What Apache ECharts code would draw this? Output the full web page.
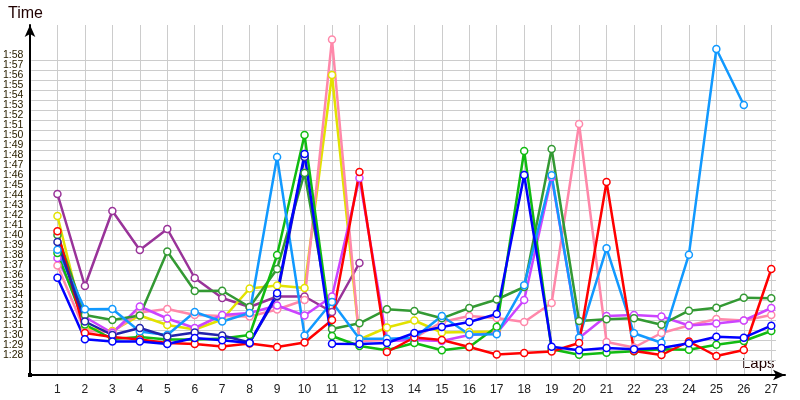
<!DOCTYPE html>
<html><head><meta charset="utf-8">
<script src="https://cdn.jsdelivr.net/npm/echarts@6/dist/echarts.min.js"></script>
<style>html,body{margin:0;padding:0;background:#fff}#c{width:800px;height:400px}</style>
</head><body><div id="c"></div>
<script>
// Lap numbers
const laps = [1,2,3,4,5,6,7,8,9,10,11,12,13,14,15,16,17,18,19,20,21,22,23,24,25,26,27];
// Lap times in seconds (e.g. 90.5 = 1:30.5)
const purpleTimes = [104.6,95.4,102.9,99.0,101.1,96.2,94.2,93.3,94.35,94.35,92.8,97.7];
const yellowTimes = [102.4,91.2,90.9,92.45,91.5,91.05,92.05,95.15,95.45,95.2,116.5,90.05,91.25,91.95,90.75,90.8,90.85];
const pinkTimes   = [97.45,90.9,90.8,92.75,93.1,92.5,92.4,92.35,93.05,94.0,120.05,89.9,90.0,90.2,91.8,92.4,92.2,91.8,93.7,111.6,89.8,89.25,90.7,91.45,92.1,91.95,92.5];
const violetTimes = [98.2,92.3,90.7,93.35,92.15,91.2,92.5,92.7,93.45,92.45,94.35,106.2,89.9,90.0,89.9,90.5,90.67,94.0,106.3,90.2,92.4,92.5,92.35,91.45,91.65,91.95,93.2];
const darkGreenTimes = [100.5,92.5,92.0,92.45,98.85,94.9,94.93,93.3,97.1,106.7,91.1,91.67,93.07,92.9,92.17,93.2,94.05,95.3,109.1,91.9,92.07,92.17,91.53,92.93,93.23,94.23,94.17];
const greenTimes  = [98.7,91.55,90.1,90.3,90.05,90.05,90.15,90.5,98.5,110.5,90.4,89.4,88.97,89.7,88.97,89.3,91.33,108.9,89.07,88.53,88.73,88.87,89.07,89.03,89.53,89.9,90.9];
const lightBlueTimes = [99.03,93.07,93.1,90.85,90.5,92.8,91.85,92.7,108.3,90.45,93.8,90.13,90.13,90.23,92.4,90.55,90.57,95.47,106.47,90.23,99.17,90.67,89.73,98.53,119.1,113.5];
const redTimes    = [100.87,90.7,90.3,90.05,89.7,89.6,89.35,89.65,89.3,89.75,92.0,106.8,88.8,90.25,90.0,89.3,88.55,88.7,88.85,89.7,105.8,88.9,88.5,89.85,88.4,89.0,97.1];
const navyTimes   = [99.8,91.85,90.5,91.2,90.35,90.75,90.45,89.75,94.4,108.3];
const blueTimes   = [96.23,90.07,89.85,89.85,89.6,90.2,89.97,89.7,94.67,108.6,89.63,89.6,89.7,90.7,91.3,91.8,92.6,106.5,89.33,88.97,89.2,89.07,89.2,89.67,90.33,90.23,91.43];

const yMin = 88, yMax = 118; // tick label range 1:28 .. 1:58

function fmt(v){
  if (v < yMin || v > yMax) return '';
  const m = Math.floor(v/60), s = Math.round(v - m*60); return m + ':' + String(s).padStart(2,'0');
}

function mk(name, color, vals){
  return {
    name, type:'line', xAxisIndex:0, yAxisIndex:0,
    data: vals.map((v,i)=>[laps[i], v]),
    symbol:'circle', symbolSize:7, showAllSymbol:true,
    lineStyle:{color, width:2.5},
    itemStyle:{color:'#fff', borderColor:color, borderWidth:1.5},
    emphasis:{disabled:true}, silent:true
  };
}

const chart = echarts.init(document.getElementById('c'), null, {renderer:'canvas'});
chart.setOption({
  animation:false,
  backgroundColor:'#fff',
  grid:[
    {left:30, top:25, width:755, height:350},
    {left:30, top:50, width:746, height:320}
  ],
  xAxis:[
    {gridIndex:0, type:'value', min:0, max:27.5, interval:1,
     axisLine:{onZero:false, lineStyle:{color:'#000', width:2}, symbol:['none','arrow'], symbolSize:[8,12]},
     axisTick:{show:false},
     axisLabel:{formatter:v => (Number.isInteger(v) && v>=1 && v<=27) ? String(v) : '', fontSize:12, color:'#222', margin:9, fontFamily:'Liberation Sans, Arial, sans-serif'},
     splitLine:{show:true, showMinLine:false, showMaxLine:false, lineStyle:{color:'#cccccc', width:1}}
    },
    {gridIndex:1, type:'value', min:0, max:1, show:false}
  ],
  yAxis:[
    {gridIndex:0, type:'value', min:86.5, max:121.5,
     axisLine:{show:true, onZero:false, lineStyle:{color:'#000', width:2}, symbol:['none','arrow'], symbolSize:[8,12]},
     axisTick:{show:false}, axisLabel:{show:false}, splitLine:{show:false}
    },
    {gridIndex:1, type:'value', min:yMin-1, max:yMax+1, interval:1,
     axisLine:{show:false}, axisTick:{show:false},
     axisLabel:{formatter:fmt, interval:0, fontSize:10.5, lineHeight:9, color:'#2a2000', margin:8, verticalAlign:'bottom',
                hideOverlap:false, fontFamily:'Liberation Sans, Arial, sans-serif'},
     splitLine:{show:true, showMinLine:false, showMaxLine:false, lineStyle:{color:'#cccccc', width:1}}
    }
  ],
  graphic:[
    {type:'text', left:8, top:6, style:{text:'Time', fontSize:16, fill:'#200000', fontFamily:'Liberation Sans, Arial, sans-serif'}},
    {type:'text', left:742, top:356, style:{text:'Laps', fontSize:15, fill:'#200000', fontFamily:'Liberation Sans, Arial, sans-serif'}},
    {type:'rect', shape:{x:28, y:373, width:4, height:4}, style:{fill:'#000'}}
  ],
  series:[
    mk('Purple', '#993399', purpleTimes),
    mk('Yellow', '#e2e200', yellowTimes),
    mk('Pink', '#ff88aa', pinkTimes),
    mk('Violet', '#cc44ff', violetTimes),
    mk('Dark green', '#339933', darkGreenTimes),
    mk('Green', '#11bb11', greenTimes),
    mk('Light blue', '#1199ff', lightBlueTimes),
    mk('Red', '#ff0000', redTimes),
    mk('Navy', '#2222aa', navyTimes),
    mk('Blue', '#0000ff', blueTimes)
  ]
});
</script></body></html>
